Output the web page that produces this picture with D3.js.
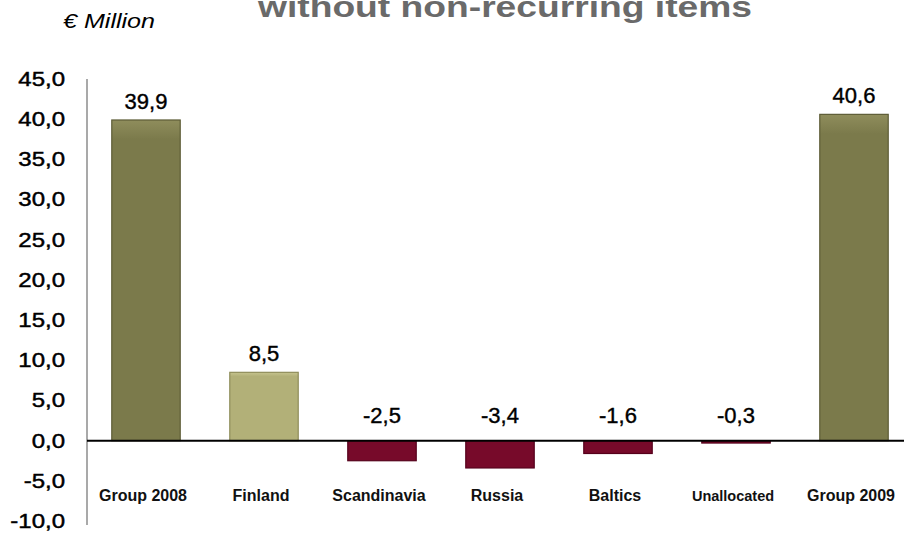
<!DOCTYPE html>
<html>
<head>
<meta charset="utf-8">
<script src="https://cdn.jsdelivr.net/npm/d3@7"></script>
<style>
  body { margin: 0; background: #fff; }
  text { font-family: "Liberation Sans", Arial, sans-serif; }
</style>
</head>
<body>
<script>
// Chart data
var categories = ["Group 2008", "Finland", "Scandinavia", "Russia", "Baltics", "Unallocated", "Group 2009"];
var values = [39.9, 8.5, -2.5, -3.4, -1.6, -0.3, 40.6];
var barKinds = ["total", "up", "down", "down", "down", "down", "total"];
var yTicks = [-10, -5, 0, 5, 10, 15, 20, 25, 30, 35, 40, 45];
var titleText = "without non-recurring items";
var unitText = "\u20ac Million";

var svgwidth = 904;
var svgheight = 538;

var colors = {
    total: ["#8f8d5c", "#7b7a4b", "#5d5c36"],
    up: ["#c6c48e", "#b2b078", "#8f8d5a"],
    down: ["#93213f", "#770a2a", "#55001b"]
};

var svg = d3.select("body")
            .append("svg")
            .attr("width", svgwidth)
            .attr("height", svgheight);

var defs = svg.append("defs");
Object.keys(colors).forEach(function(k) {
    var g = defs.append("linearGradient")
        .attr("id", "grad-" + k)
        .attr("x1", 0).attr("y1", 0).attr("x2", 0).attr("y2", 1);
    g.append("stop").attr("offset", "0%").attr("stop-color", colors[k][0]);
    g.append("stop").attr("offset", "6%").attr("stop-color", colors[k][1]);
    g.append("stop").attr("offset", "100%").attr("stop-color", colors[k][1]);
});

// comma decimals and a plain hyphen for minus
var locale = d3.formatLocale({decimal: ",", thousands: ".", grouping: [3], currency: ["", " \u20ac"], minus: "-"});
var fmt = locale.format(".1f");

//Scales
var xScale = d3.scaleBand()
        .domain(categories)
        .range([87, 913])
        .paddingInner(0.42)
        .paddingOuter(0.21);

var yScale = d3.scaleLinear()
        .domain([-10, 45])
        .range([521, 79]);

//Y axis
var leftAxis = d3.axisLeft(yScale)
        .tickValues(yTicks)
        .tickSize(0)
        .tickPadding(22)
        .tickFormat(fmt);

var yAxis = svg.append("g")
    .attr("transform", "translate(87,0)")
    .call(leftAxis);

yAxis.select(".domain").remove();
yAxis.selectAll("text")
    .attr("font-size", "20px")
    .attr("fill", "#000")
    .attr("stroke", "#000")
    .attr("stroke-width", 0.45)
    .attr("font-family", "'Liberation Sans', Arial, sans-serif")
    .each(function() {
        // the reference numbers are a little wider than the font
        var w = this.getComputedTextLength();
        d3.select(this)
            .attr("textLength", w * 1.2)
            .attr("lengthAdjust", "spacingAndGlyphs");
    });

svg.append("line")
    .attr("x1", 87).attr("x2", 87)
    .attr("y1", 79).attr("y2", 525)
    .attr("stroke", "#8c8c8c")
    .attr("stroke-width", 1.5);

//Bars
var data = categories.map(function(c, i) { return {cat: c, value: values[i], kind: barKinds[i]}; });

svg.selectAll("rect.bar")
    .data(data)
    .enter()
    .append("rect")
    .attr("class", "bar")
    .attr("x", d => xScale(d.cat))
    .attr("y", d => yScale(Math.max(0, d.value)))
    .attr("width", xScale.bandwidth())
    .attr("height", d => Math.abs(yScale(d.value) - yScale(0)))
    .attr("fill", d => "url(#grad-" + d.kind + ")")
    .attr("stroke", d => colors[d.kind][2])
    .attr("stroke-width", 1.2);

//Zero line
svg.append("line")
    .attr("x1", 87).attr("x2", svgwidth)
    .attr("y1", yScale(0)).attr("y2", yScale(0))
    .attr("stroke", "#000")
    .attr("stroke-width", 2);

//Value labels
svg.selectAll("text.value")
    .data(data)
    .enter()
    .append("text")
    .attr("class", "value")
    .attr("x", d => xScale(d.cat) + xScale.bandwidth() / 2)
    .attr("y", d => d.value >= 0 ? yScale(d.value) - 11 : yScale(0) - 18)
    .attr("text-anchor", "middle")
    .attr("font-size", "22px")
    .attr("fill", "#000")
    .attr("stroke", "#000")
    .attr("stroke-width", 0.4)
    .text(d => fmt(d.value));

//Category labels
svg.selectAll("text.cat")
    .data(data)
    .enter()
    .append("text")
    .attr("class", "cat")
    .attr("x", d => xScale(d.cat) + xScale.bandwidth() / 2 - 3)
    .attr("y", 501)
    .attr("text-anchor", "middle")
    .attr("font-size", d => d.cat === "Unallocated" ? "14.5px" : "16px")
    .attr("font-weight", "bold")
    .attr("fill", "#111")
    .text(d => d.cat);

//Title and unit
svg.append("text")
    .attr("x", 505)
    .attr("y", 17)
    .attr("text-anchor", "middle")
    .attr("font-size", "30px")
    .attr("font-weight", "bold")
    .attr("fill", "#6a6a6a")
    .attr("textLength", 494)
    .attr("lengthAdjust", "spacingAndGlyphs")
    .text(titleText);

svg.append("text")
    .attr("x", 63)
    .attr("y", 28)
    .attr("font-size", "21px")
    .attr("font-style", "italic")
    .attr("fill", "#000")
    .attr("textLength", 92)
    .attr("lengthAdjust", "spacingAndGlyphs")
    .text(unitText);
</script>
</body>
</html>
